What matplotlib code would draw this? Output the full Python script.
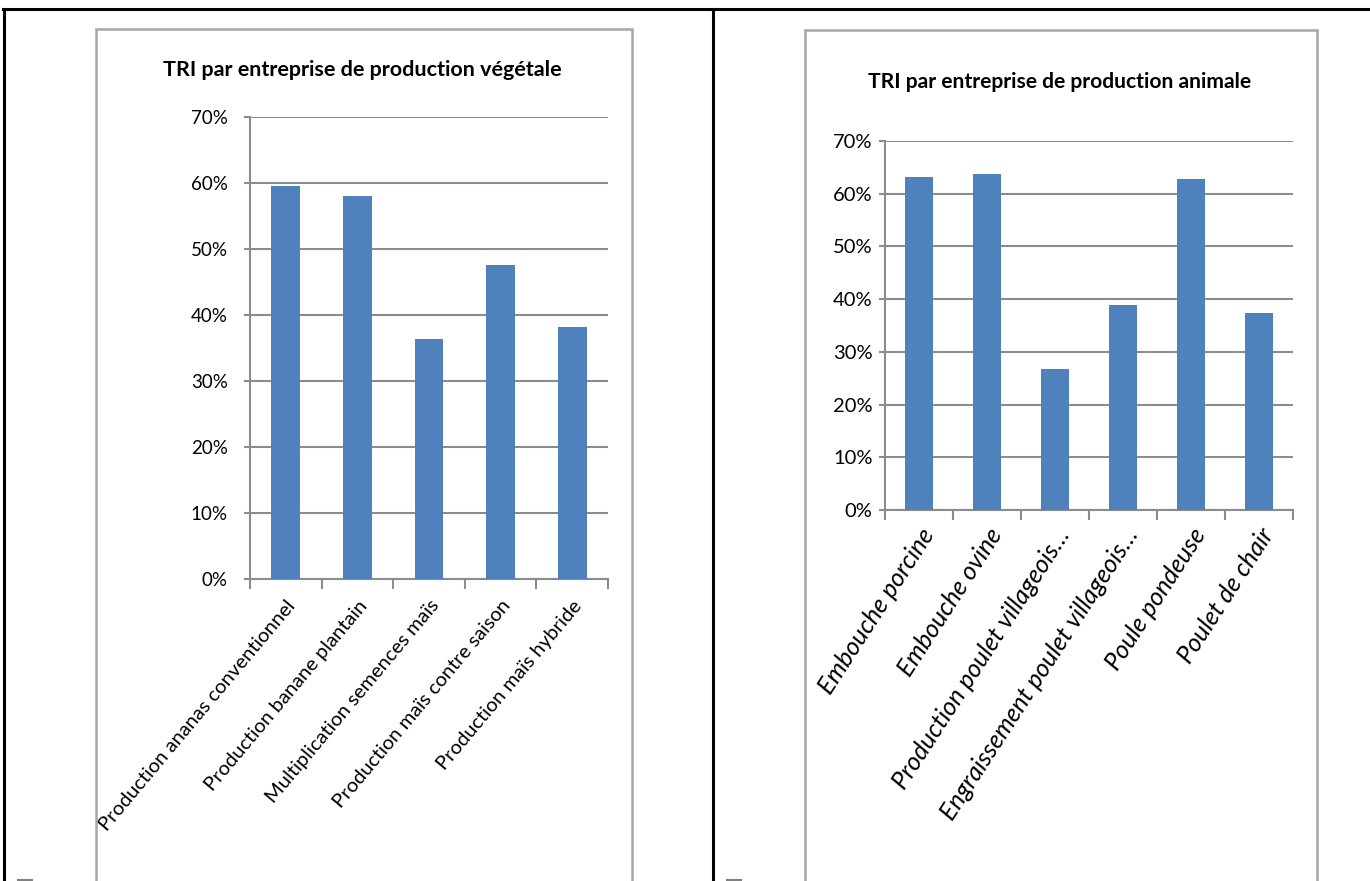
import matplotlib
matplotlib.use("Agg")
import matplotlib.pyplot as plt
from matplotlib.lines import Line2D
from matplotlib.patches import Rectangle
from matplotlib.ticker import FuncFormatter, MultipleLocator

W, H = 1370, 881

# --- data -------------------------------------------------------------
veg_categories = [
    "Production ananas conventionnel",
    "Production banane plantain",
    "Multiplication semences maïs",
    "Production maïs contre saison",
    "Production maïs hybride",
]
veg_values = [0.595, 0.580, 0.364, 0.476, 0.382]

ani_categories = [
    "Embouche porcine",
    "Embouche ovine",
    "Production poulet villageois…",
    "Engraissement poulet villageois…",
    "Poule pondeuse",
    "Poulet de chair",
]
ani_values = [0.632, 0.638, 0.268, 0.389, 0.628, 0.374]

veg_title = "TRI par entreprise de production végétale"
ani_title = "TRI par entreprise de production animale"

# --- style ------------------------------------------------------------
plt.rcParams["font.family"] = ["Lato", "DejaVu Sans"]

BAR = "#4F81BD"
GRID = "#8C8C8C"
FRAME = "#A6A6A6"


def px_rect(x0, y0, x1, y1):
    return [x0 / W, 1 - y1 / H, (x1 - x0) / W, (y1 - y0) / H]


def fx(x):
    return x / W


def fy(y):
    return 1 - y / H


fig = plt.figure(figsize=(W / 100, H / 100), dpi=100)
fig.patch.set_facecolor("white")
renderer = fig.canvas.get_renderer()


def fit_width(txt, target_px):
    """Rescale a text's font size so its rendered width equals target_px."""
    w = txt.get_window_extent(renderer).width
    txt.set_fontsize(txt.get_fontsize() * target_px / w)


# table borders
for xs, ys, lw in [
    ((3, W), (9, 9), 2.2),
    ((4, 4), (9, H), 2.2),
    ((713, 713), (9, H), 2.2),
]:
    fig.add_artist(Line2D([fx(x) for x in xs], [fy(y) for y in ys],
                          color="black", lw=lw, transform=fig.transFigure))

# chart frames
for x0, y0, x1 in [(96, 29, 632), (805, 30, 1317)]:
    fig.add_artist(Rectangle((fx(x0), fy(H + 20)), fx(x1) - fx(x0), fy(y0) - fy(H + 20),
                             transform=fig.transFigure, fill=False,
                             edgecolor=FRAME, lw=1.8))

# small marks at the bottom of each cell
for x0, x1 in [(18, 32), (727, 741)]:
    fig.add_artist(Line2D([fx(x0), fx(x1)], [fy(880), fy(880)], color="#808080",
                          lw=1.5, transform=fig.transFigure))


def bar_chart(rect, cats, vals, title, title_xy, title_w, rot, italic,
              fs_tick, ypad, fs_lab, xpad):
    ax = fig.add_axes(rect)
    n = len(cats)
    x = list(range(n))
    ax.bar(x, vals, width=0.4, color=BAR, zorder=3)
    ax.set_xlim(-0.5, n - 0.5)
    ax.set_ylim(0, 0.7)
    ax.yaxis.set_major_locator(MultipleLocator(0.1))
    ax.yaxis.set_major_formatter(FuncFormatter(lambda v, p: f"{v * 100:.0f}%"))
    ax.grid(axis="y", color=GRID, lw=1.5, zorder=0)
    for s in ("top", "right"):
        ax.spines[s].set_visible(False)
    for s in ("left", "bottom"):
        ax.spines[s].set_color(GRID)
        ax.spines[s].set_linewidth(1.5)
    ax.tick_params(axis="y", length=4, width=1.5, color=GRID, labelsize=fs_tick, pad=ypad)
    ax.set_xticks(x)
    ax.set_xticks([i - 0.5 for i in range(n + 1)], minor=True)
    ax.tick_params(axis="x", which="major", length=0, pad=xpad)
    ax.tick_params(axis="x", which="minor", length=7, width=1.5, color=GRID)
    ax.set_xticklabels(cats, rotation=rot, ha="right", rotation_mode="anchor",
                       fontsize=fs_lab, style="italic" if italic else "normal")
    t = fig.text(fx(title_xy[0]), fy(title_xy[1]), title, ha="center", va="center",
                 fontsize=15, fontweight="bold")
    fit_width(t, title_w)
    return ax


bar_chart(px_rect(250, 117, 608, 579), veg_categories, veg_values, veg_title,
          (362, 70), 400, 50, False, 13.5, 12, 14.5, 13)
bar_chart(px_rect(885, 141, 1293, 510), ani_categories, ani_values, ani_title,
          (1060, 82), 385, 57, True, 14.5, 5, 18, 10)

fig.savefig("out.png", dpi=100, facecolor="white")
